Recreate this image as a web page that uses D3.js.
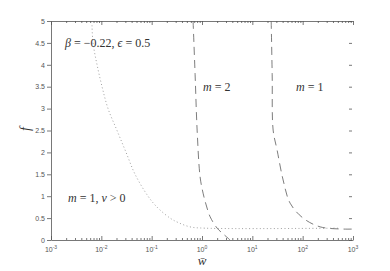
<!DOCTYPE html>
<html>
<head>
<meta charset="utf-8">
<script src="https://cdn.jsdelivr.net/npm/d3@7"></script>
<style>
  body { margin: 0; background: #fff; }
  svg { display: block; }
  .tick text { font-family: "Liberation Sans", Arial, sans-serif; font-size: 7px; fill: #555; }
  .lab { font-family: "Liberation Serif", "DejaVu Serif", serif; fill: #333; }
</style>
</head>
<body>
<div id="container"></div>
<script>
// m = 1, nu > 0 (dotted)
const dotW = [0.00653, 0.00684, 0.00822, 0.01033, 0.01358, 0.0205, 0.031, 0.0468, 0.0847, 0.128, 0.232, 0.335, 0.579, 1.15, 500];
const dotF = [4.9, 4.5, 4.0, 3.5, 3.0, 2.5, 2.0, 1.5, 1.0, 0.75, 0.5, 0.4, 0.3, 0.27, 0.27];

// m = 2 (dashed)
const m2W = [0.665, 0.73, 0.80, 0.917, 1.05, 1.21, 1.45, 2.0, 2.63, 3.62];
const m2F = [5, 3.77, 2.51, 1.44, 1.07, 0.80, 0.53, 0.27, 0.14, 0];

// m = 1 (dashed)
const m1W = [23.7, 24.8, 25.9, 31.1, 40.9, 56.4, 102, 223, 638, 1000];
const m1F = [5, 3.77, 2.51, 2.05, 1.37, 0.84, 0.50, 0.30, 0.25, 0.25];

const xMajor = [-3, -2, -1, 0, 1, 2, 3];
const yTicks = [0, 0.5, 1, 1.5, 2, 2.5, 3, 3.5, 4, 4.5, 5];

const W = 390, H = 271;
const mLeft = 51, mRight = 353, mTop = 21, mBottom = 240;

const svg = d3.select("#container").append("svg")
  .attr("width", W)
  .attr("height", H);

const x = d3.scaleLog().domain([1e-3, 1e3]).range([mLeft, mRight]);
const y = d3.scaleLinear().domain([0, 5]).range([mBottom, mTop]);

// minor ticks for log axis
const minor = [];
xMajor.slice(0, -1).forEach(k => {
  for (let i = 2; i <= 9; i++) minor.push(i * Math.pow(10, k));
});
const major = xMajor.map(k => Math.pow(10, k));

// bottom axis
const gB = svg.append('g')
  .attr('transform', `translate(0,${mBottom})`)
  .call(d3.axisBottom(x).tickValues(major).tickSizeInner(-4).tickSizeOuter(0).tickFormat(''));
gB.append('g').call(d3.axisBottom(x).tickValues(minor).tickSizeInner(-2).tickSizeOuter(0).tickFormat(''))
  .select('.domain').remove();

// top axis
const gT = svg.append('g')
  .attr('transform', `translate(0,${mTop})`)
  .call(d3.axisTop(x).tickValues(major).tickSizeInner(-4).tickSizeOuter(0).tickFormat(''));
gT.append('g').call(d3.axisTop(x).tickValues(minor).tickSizeInner(-2).tickSizeOuter(0).tickFormat(''))
  .select('.domain').remove();

// left axis
svg.append('g')
  .attr('transform', `translate(${mLeft},0)`)
  .call(d3.axisLeft(y).tickValues(yTicks).tickSizeInner(4).tickSizeOuter(0).tickPadding(2).tickFormat(d3.format('~g')));

// right ticks, no spine
svg.append('g')
  .attr('transform', `translate(${mRight - 1},0)`)
  .call(d3.axisRight(y).tickValues(yTicks).tickSizeInner(-3).tickSizeOuter(0).tickFormat(''))
  .select('.domain').remove();

svg.selectAll('.domain').attr('stroke', '#555').attr('stroke-width', 0.8);
svg.selectAll('.tick line').attr('stroke', '#555').attr('stroke-width', 0.8);

// x tick labels 10^k
const xl = svg.append('g').selectAll('text')
  .data(xMajor)
  .enter()
  .append('text')
  .attr('x', d => x(Math.pow(10, d)))
  .attr('y', 252)
  .attr('text-anchor', 'middle')
  .style('font-family', '"Liberation Sans", Arial, sans-serif')
  .style('font-size', '7px')
  .style('fill', '#555');
xl.append('tspan').text('10');
xl.append('tspan').attr('dy', -3).style('font-size', '5px').text(d => d);

// curves
const line = d3.line()
  .x(d => x(d[0]))
  .y(d => y(d[1]))
  .curve(d3.curveCatmullRom.alpha(0.5));
const zip = (a, b) => a.map((v, i) => [v, b[i]]);

svg.append('path')
  .datum(zip(dotW, dotF))
  .attr('d', line)
  .attr('fill', 'none')
  .attr('stroke', '#888')
  .attr('stroke-width', 0.8)
  .attr('stroke-dasharray', '1,2.5');

svg.append('path')
  .datum(zip(m2W, m2F))
  .attr('d', line)
  .attr('fill', 'none')
  .attr('stroke', '#666')
  .attr('stroke-width', 0.85)
  .attr('stroke-dasharray', '8,5');

svg.append('path')
  .datum(zip(m1W, m1F))
  .attr('d', line)
  .attr('fill', 'none')
  .attr('stroke', '#666')
  .attr('stroke-width', 0.85)
  .attr('stroke-dasharray', '8,5');

// annotations
const ann = svg.append('g').attr('class', 'lab').style('font-size', '12px');
ann.append('text').attr('x', 65).attr('y', 47)
  .html('<tspan font-style="italic">β</tspan> = −0.22, <tspan font-style="italic">ϵ</tspan> = 0.5');
ann.append('text').attr('x', 203).attr('y', 91)
  .html('<tspan font-style="italic">m</tspan> = 2');
ann.append('text').attr('x', 296).attr('y', 91)
  .html('<tspan font-style="italic">m</tspan> = 1');
ann.append('text').attr('x', 68).attr('y', 202)
  .html('<tspan font-style="italic">m</tspan> = 1, <tspan font-style="italic">ν</tspan> &gt; 0');

// axis labels
svg.append('text').attr('class', 'lab')
  .attr('x', 202).attr('y', 265)
  .attr('text-anchor', 'middle')
  .style('font-size', '13px').style('font-style', 'italic')
  .text('w̄');

svg.append('text').attr('class', 'lab')
  .attr('transform', 'translate(30,129) rotate(-90)')
  .attr('text-anchor', 'middle')
  .style('font-size', '14px').style('font-style', 'italic')
  .text('f');
</script>
</body>
</html>
